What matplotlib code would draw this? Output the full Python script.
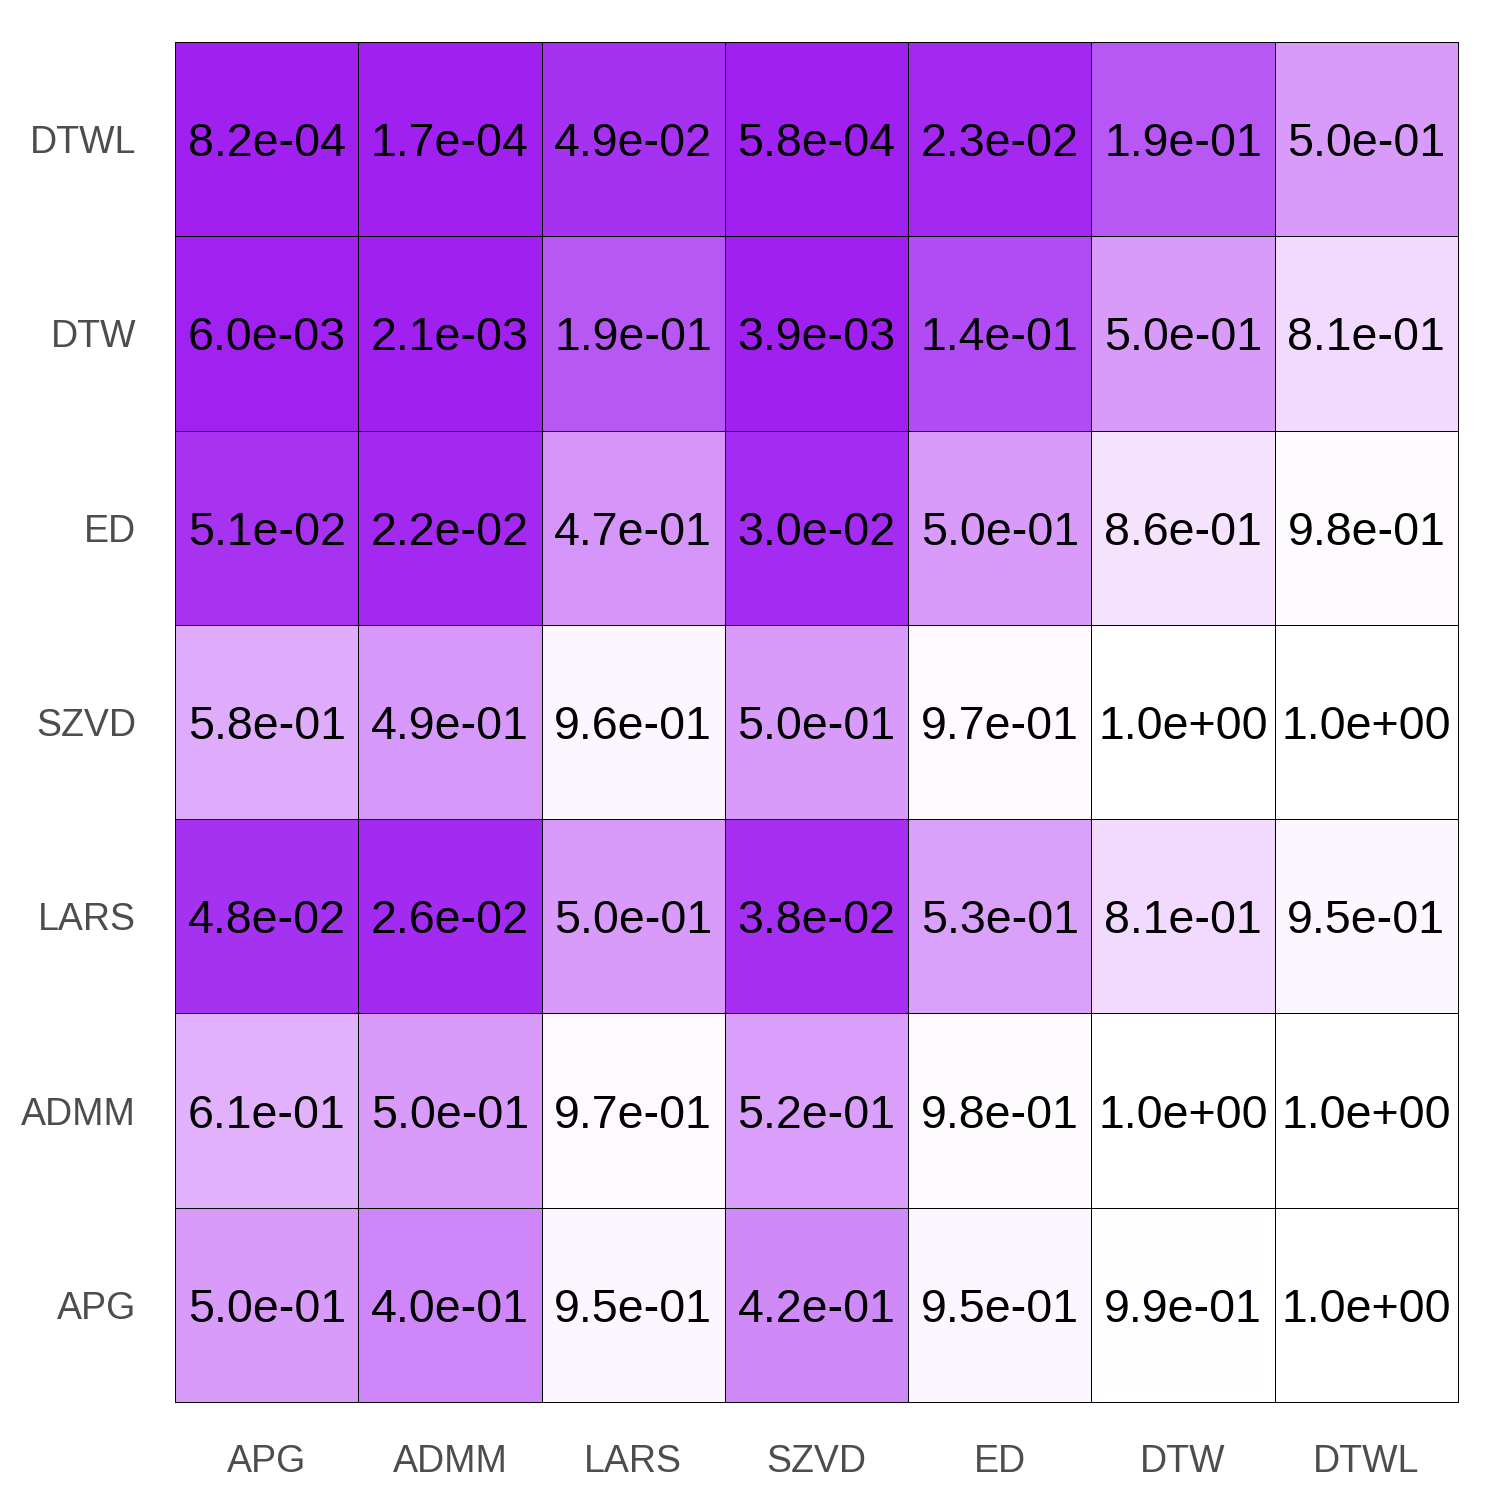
import numpy as np
import matplotlib
matplotlib.use('Agg')
from matplotlib import pyplot as plt
from matplotlib.colors import ListedColormap



# Data: rows listed from top to bottom, columns from left to right
row_labels = ['DTWL', 'DTW', 'ED', 'SZVD', 'LARS', 'ADMM', 'APG']
col_labels = ['APG', 'ADMM', 'LARS', 'SZVD', 'ED', 'DTW', 'DTWL']

dtwl_row = [8.2e-04, 1.7e-04, 4.9e-02, 5.8e-04, 2.3e-02, 1.9e-01, 5.0e-01]
dtw_row  = [6.0e-03, 2.1e-03, 1.9e-01, 3.9e-03, 1.4e-01, 5.0e-01, 8.1e-01]
ed_row   = [5.1e-02, 2.2e-02, 4.7e-01, 3.0e-02, 5.0e-01, 8.6e-01, 9.8e-01]
szvd_row = [5.8e-01, 4.9e-01, 9.6e-01, 5.0e-01, 9.7e-01, 1.0e+00, 1.0e+00]
lars_row = [4.8e-02, 2.6e-02, 5.0e-01, 3.8e-02, 5.3e-01, 8.1e-01, 9.5e-01]
admm_row = [6.1e-01, 5.0e-01, 9.7e-01, 5.2e-01, 9.8e-01, 1.0e+00, 1.0e+00]
apg_row  = [5.0e-01, 4.0e-01, 9.5e-01, 4.2e-01, 9.5e-01, 9.9e-01, 1.0e+00]

values = np.array([dtwl_row, dtw_row, ed_row, szvd_row, lars_row, admm_row, apg_row])



# Purple -> white gradient interpolated in Lab space (like ggplot's scale_fill_gradient)
def srgb_to_lab(rgb):
	c = np.asarray(rgb, dtype=float)
	lin = np.where(c <= 0.04045, c / 12.92, ((c + 0.055) / 1.055) ** 2.4)
	m = np.array([[0.4124, 0.3576, 0.1805], [0.2126, 0.7152, 0.0722], [0.0193, 0.1192, 0.9505]])
	xyz = m @ lin / np.array([0.95047, 1.0, 1.08883])
	f = np.where(xyz > 0.008856, np.cbrt(xyz), 7.787 * xyz + 16 / 116)
	return np.array([116 * f[1] - 16, 500 * (f[0] - f[1]), 200 * (f[1] - f[2])])

def lab_to_srgb(lab):
	fy = (lab[0] + 16) / 116
	f = np.array([fy + lab[1] / 500, fy, fy - lab[2] / 200])
	xyz = np.where(f ** 3 > 0.008856, f ** 3, (f - 16 / 116) / 7.787) * np.array([0.95047, 1.0, 1.08883])
	m_inv = np.linalg.inv(np.array([[0.4124, 0.3576, 0.1805], [0.2126, 0.7152, 0.0722], [0.0193, 0.1192, 0.9505]]))
	lin = m_inv @ xyz
	c = np.where(lin <= 0.0031308, 12.92 * lin, 1.055 * np.clip(lin, 0, None) ** (1 / 2.4) - 0.055)
	return np.clip(c, 0, 1)

low = srgb_to_lab([160 / 255, 32 / 255, 240 / 255])
high = srgb_to_lab([1.0, 1.0, 1.0])
colors = [lab_to_srgb(low + (high - low) * t) for t in np.linspace(0, 1, 256)]
cmap_purple = ListedColormap(colors)



fig, ax = plt.subplots(figsize=(15, 15), dpi=100)
fig.subplots_adjust(left=175 / 1500, right=1458 / 1500, bottom=1 - 1402 / 1500, top=1 - 42 / 1500)

n_rows, n_cols = values.shape
ax.pcolormesh(np.arange(n_cols + 1), np.arange(n_rows + 1), values[::-1], cmap=cmap_purple,
	vmin=0, vmax=1, edgecolors='black', linewidth=0.7)

for i in range(n_rows):
	for j in range(n_cols):
		ax.text(j + 0.5, n_rows - i - 0.5, f"{values[i, j]:.1e}", ha='center', va='center_baseline',
			fontsize=33.5, family='Liberation Sans', color='black')

ax.set_xlim(0, n_cols)
ax.set_ylim(0, n_rows)
ax.set_xticks(np.arange(n_cols) + 0.5)
ax.set_xticklabels(col_labels)
ax.set_yticks(np.arange(n_rows) + 0.5)
ax.set_yticklabels(row_labels[::-1])
ax.tick_params(length=0, pad=28, labelsize=27, labelcolor='#4D4D4D')
ax.tick_params(axis='x', pad=30)
for label in ax.get_xticklabels() + ax.get_yticklabels():
	label.set_family('Liberation Sans')
for spine in ax.spines.values():
	spine.set_linewidth(0.7)

fig.savefig('out.png', dpi=100)
